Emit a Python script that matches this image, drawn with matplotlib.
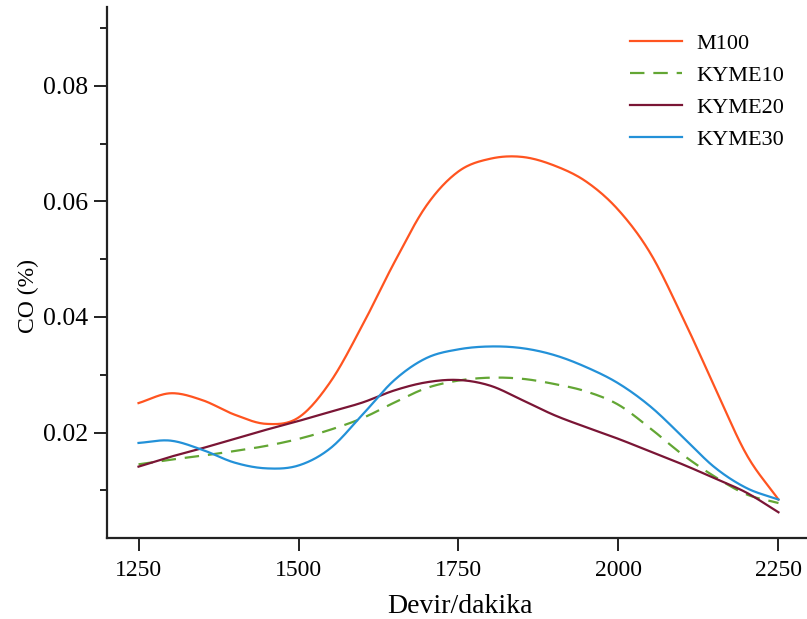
import numpy as np
import matplotlib
matplotlib.use("Agg")
import matplotlib.pyplot as plt

# ---- data ----
rpm = [1250, 1300, 1350, 1400, 1450, 1500, 1550, 1600, 1650, 1700, 1750,
       1800, 1850, 1900, 1950, 2000, 2050, 2100, 2150, 2200, 2250]

m100 = [0.0251, 0.0268, 0.0256, 0.0231, 0.0215, 0.0226, 0.0288, 0.0386, 0.0495, 0.0593, 0.0652,
        0.0674, 0.0677, 0.0662, 0.0634, 0.0585, 0.0510, 0.0400, 0.0280, 0.0162, 0.0084]
kyme10 = [0.0145, 0.0153, 0.0160, 0.0168, 0.0177, 0.0189, 0.0205, 0.0225, 0.0252, 0.0277, 0.0290,
          0.0295, 0.0293, 0.0284, 0.0271, 0.0248, 0.0207, 0.0162, 0.0124, 0.0093, 0.0078]
kyme20 = [0.0141, 0.0158, 0.0173, 0.0189, 0.0205, 0.0220, 0.0236, 0.0252, 0.0273, 0.0287, 0.0291,
          0.0281, 0.0256, 0.0230, 0.0209, 0.0189, 0.0167, 0.0145, 0.0121, 0.0096, 0.0062]
kyme30 = [0.0182, 0.0186, 0.0170, 0.0148, 0.0138, 0.0143, 0.0173, 0.0231, 0.0291, 0.0329, 0.0344,
          0.0349, 0.0346, 0.0334, 0.0313, 0.0285, 0.0245, 0.0193, 0.0140, 0.0104, 0.0084]

labels = ["M100", "KYME10", "KYME20", "KYME30"]
colors = ["#FF5420", "#63A634", "#7A1535", "#2391D8"]
styles = ["-", (0, (6.5, 4.0)), "-", "-"]

xticks = [1250, 1500, 1750, 2000, 2250]
yticks = [0.02, 0.04, 0.06, 0.08]
yminor = [0.01, 0.03, 0.05, 0.07, 0.09]


def smooth(x, y, n=24):
    """Cubic Hermite (Catmull-Rom) rendering through the read points."""
    x = np.asarray(x, float)
    y = np.asarray(y, float)
    m = np.empty_like(y)
    m[1:-1] = (y[2:] - y[:-2]) / (x[2:] - x[:-2])
    m[0] = (y[1] - y[0]) / (x[1] - x[0])
    m[-1] = (y[-1] - y[-2]) / (x[-1] - x[-2])
    xs, ys = [], []
    for i in range(len(x) - 1):
        h = x[i + 1] - x[i]
        t = np.linspace(0, 1, n, endpoint=False)
        h00 = 2 * t**3 - 3 * t**2 + 1
        h10 = t**3 - 2 * t**2 + t
        h01 = -2 * t**3 + 3 * t**2
        h11 = t**3 - t**2
        xs.append(x[i] + t * h)
        ys.append(h00 * y[i] + h10 * h * m[i] + h01 * y[i + 1] + h11 * h * m[i + 1])
    xs.append([x[-1]])
    ys.append([y[-1]])
    return np.concatenate(xs), np.concatenate(ys)


plt.rcParams["font.family"] = ["Liberation Serif", "DejaVu Serif"]

fig = plt.figure(figsize=(8.07, 6.19), dpi=100)
ax = fig.add_axes([0.132, 0.1304, 0.8723, 0.8578])

for series, lab, col, ls in zip([m100, kyme10, kyme20, kyme30], labels, colors, styles):
    sx, sy = smooth(rpm, series)
    ax.plot(sx, sy, color=col, lw=1.6, linestyle=ls, label=lab)

ax.set_xlim(1200, 2300)
ax.set_ylim(0.0017, 0.0936)
ax.set_xticks(xticks)
ax.set_yticks(yticks)
ax.set_yticks(yminor, minor=True)
ax.set_yticklabels([f"{v:.2f}" for v in yticks])

for s in ["top", "right"]:
    ax.spines[s].set_visible(False)
for s in ["left", "bottom"]:
    ax.spines[s].set_linewidth(1.6)
    ax.spines[s].set_color("#222222")

ax.tick_params(axis="both", which="major", direction="out", length=9.5, width=1.4,
               color="#222222")
ax.tick_params(axis="x", labelsize=17, pad=6)
ax.tick_params(axis="y", labelsize=18.5, pad=4)
ax.tick_params(axis="y", which="minor", direction="out", length=5.3, width=1.4, color="#222222")

ax.set_xlabel("Devir/dakika", fontsize=20)
ax.set_ylabel("CO (%)", fontsize=17)
ax.xaxis.set_label_coords(0.502, -0.105)
ax.yaxis.set_label_coords(-0.096, 0.456)

leg = ax.legend(loc="upper left", bbox_to_anchor=(630 / 807, 1 - 33 / 619),
                bbox_transform=fig.transFigure, frameon=False, fontsize=16,
                handlelength=2.35, handletextpad=0.65, labelspacing=0.52,
                borderpad=0, borderaxespad=0)

fig.savefig("out.png", dpi=100)
